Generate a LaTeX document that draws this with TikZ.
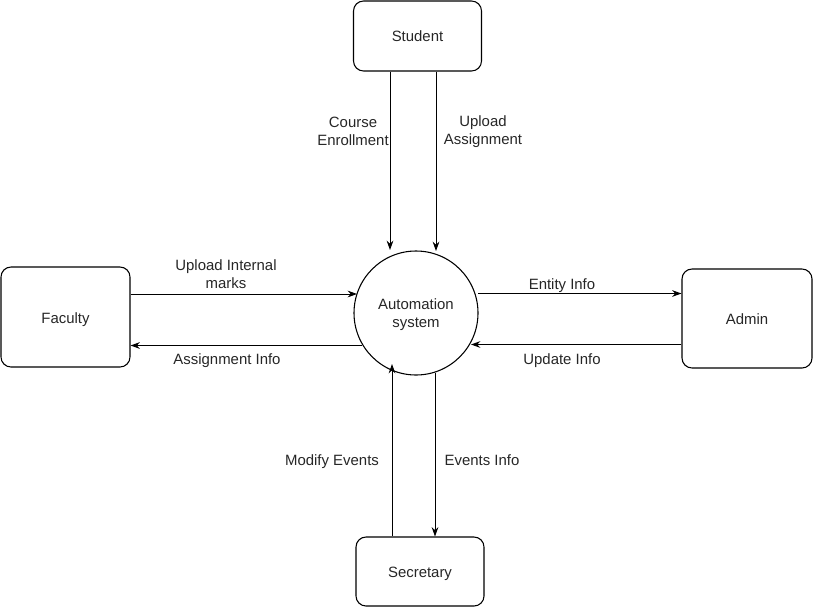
\documentclass[tikz,border=0pt]{standalone}
\usepackage{fontspec}
\setmainfont{Liberation Sans}
\usetikzlibrary{arrows.meta}
\begin{document}
\begin{tikzpicture}[x=0.75pt,y=-0.75pt,
  every node/.style={font=\fontsize{11.2}{13.5}\selectfont, text=black!85},
  ent/.style={draw=black, line width=0.8pt, rounded corners=7.5pt, minimum width=96pt, minimum height=52.5pt, inner sep=0pt},
  proc/.style={draw=black, line width=0.8pt, circle, minimum size=93pt, inner sep=0pt, align=center, text depth=0pt},
  arr/.style={draw, line width=0.7pt, -{Stealth[length=7pt,width=5pt]}},
  lbl/.style={align=center, inner sep=0pt, text height=8pt, text depth=0pt},
  mlbl/.style={align=center, inner sep=0pt, text depth=0pt}]
\useasboundingbox (0,0) rectangle (813,607);
\node[ent, minimum width=96pt, minimum height=52.5pt] (student) at (417.5,36) {Student};
\node[ent, minimum width=96.75pt, minimum height=75pt] (faculty) at (65.5,317) {};
\node[lbl] (ft) at (65.5,318) {Faculty};
\node[ent, minimum width=97.5pt, minimum height=74.25pt] (admin) at (747,318.5) {};
\node[lbl] (at) at (747,319) {Admin};
\node[ent, minimum width=96pt, minimum height=51.75pt] (secretary) at (420,571.5) {};
\node[lbl] (st) at (420,572) {Secretary};
\node[proc] (auto) at (416,313) {};
\node[mlbl] (autot) at (416,313.5) {Automation\\system};
% student arrows
\coordinate (s1) at (390,250);
\coordinate (s2) at (436,251);
\draw[arr] (student.south -| s1) -- (s1);
\draw[arr] (student.south -| s2) -- (s2);
\node[mlbl] (l1) at (353,131) {Course\\Enrollment};
\node[mlbl] (l2) at (483,130.5) {Upload\\Assignment};
% faculty arrows
\coordinate (f1) at (357,294);
\coordinate (f2) at (362,345.5);
\draw[arr] (faculty.east |- f1) -- (f1);
\draw[arr] (f2) -- (faculty.east |- f2);
\node[mlbl] (l3) at (226,274) {Upload Internal\\marks};
\node[lbl] (l4) at (227,359) {Assignment Info};
% admin arrows
\coordinate (a1) at (478,293.5);
\coordinate (a2) at (471,344.5);
\draw[arr] (a1) -- (admin.west |- a1);
\draw[arr] (admin.west |- a2) -- (a2);
\node[lbl] (l5) at (562,284) {Entity Info};
\node[lbl] (l6) at (562,359) {Update Info};
% secretary arrows
\coordinate (e1) at (392,364);
\coordinate (e2) at (435,373);
\draw[arr] (secretary.north -| e1) -- (e1);
\draw[arr] (e2) -- (secretary.north -| e2);
\node[lbl] (l7) at (332,460) {Modify Events};
\node[lbl] (l8) at (482,460) {Events Info};
\end{tikzpicture}
\end{document}
